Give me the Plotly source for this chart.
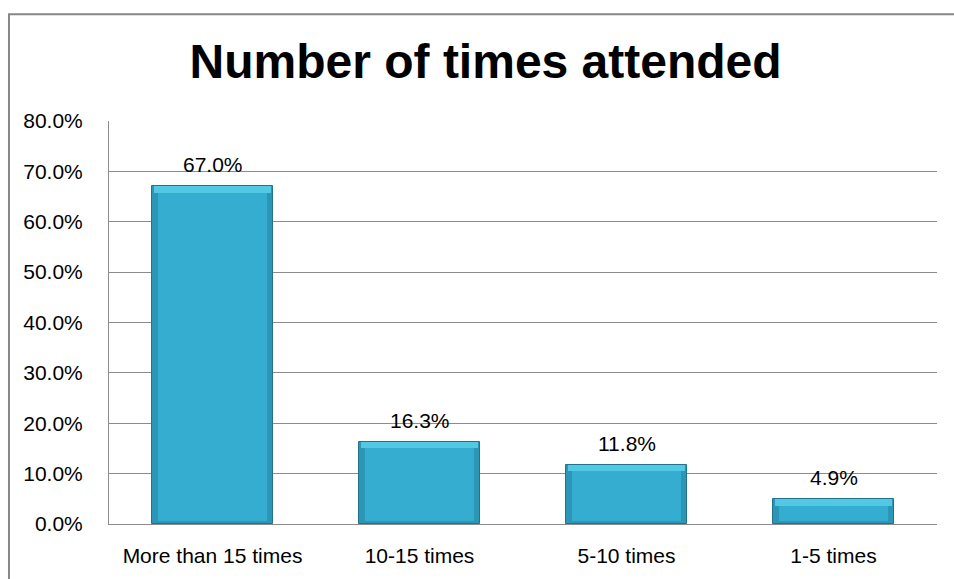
import plotly.graph_objects as go

# Survey results: share of respondents by number of times attended
categories = ["More than 15 times", "10-15 times", "5-10 times", "1-5 times"]
shares = [67.0, 16.3, 11.8, 4.9]
y_ticks = [0, 10, 20, 30, 40, 50, 60, 70, 80]
y_tick_labels = [f"{t:.1f}%" for t in y_ticks]

FONT = "Liberation Sans, Arial, sans-serif"
GRID = "#8c8c8c"

bar_w = 0.58
bevel_top = 1.3     # height of the top highlight band, in axis units
bevel_bottom = 0.5  # height of the darker bottom rim, in axis units

fig = go.Figure()

# outer bar (darker rim)
fig.add_trace(go.Bar(
    x=categories, y=shares, width=bar_w,
    marker=dict(color="#2b97b6", line=dict(color="#23718a", width=1)),
    hoverinfo="skip", showlegend=False,
))
# inner body
fig.add_trace(go.Bar(
    x=categories, y=[v - bevel_top - bevel_bottom for v in shares],
    base=[bevel_bottom] * len(shares), width=bar_w - 0.055,
    marker=dict(color="#35add0", line=dict(width=0)),
    hoverinfo="skip", showlegend=False,
))
# top highlight band
fig.add_trace(go.Bar(
    x=categories, y=[bevel_top] * len(shares),
    base=[v - bevel_top for v in shares], width=bar_w - 0.012,
    marker=dict(color="#52c9e4", line=dict(width=0)),
    hoverinfo="skip", showlegend=False,
))

# value labels above bars
for c, v in zip(categories, shares):
    fig.add_annotation(
        x=c, y=v, text=f"{v:.1f}%", showarrow=False,
        yanchor="bottom", yshift=8,
        font=dict(family=FONT, size=21, color="#000000"),
    )

# chart border
fig.add_shape(
    type="rect", xref="paper", yref="paper",
    x0=-0.1208, x1=1.03, y0=-0.16, y1=1.2647,
    line=dict(color="#878787", width=2), fillcolor="rgba(0,0,0,0)",
    layer="below",
)

fig.update_layout(
    width=954, height=579,
    margin=dict(l=109, r=17, t=121, b=50),
    paper_bgcolor="#ffffff", plot_bgcolor="#ffffff",
    barmode="overlay", bargap=0,
    title=dict(
        text="<b>Number of times attended</b>",
        x=0.509, xref="container", xanchor="center",
        y=0.895, yref="container", yanchor="middle",
        font=dict(family=FONT, size=48, color="#000000"),
    ),
    xaxis=dict(
        showgrid=False, showline=True, linecolor=GRID, linewidth=1,
        ticks="", ticklabelstandoff=13,
        tickfont=dict(family=FONT, size=21, color="#000000"),
    ),
    yaxis=dict(
        range=[0, 80], tickvals=y_ticks, ticktext=y_tick_labels,
        showgrid=True, gridcolor=GRID, gridwidth=1,
        showline=True, linecolor=GRID, linewidth=1,
        zeroline=False, ticks="", ticklabelstandoff=21,
        tickfont=dict(family=FONT, size=21, color="#000000"),
    ),
)

fig.write_html("out.html")
